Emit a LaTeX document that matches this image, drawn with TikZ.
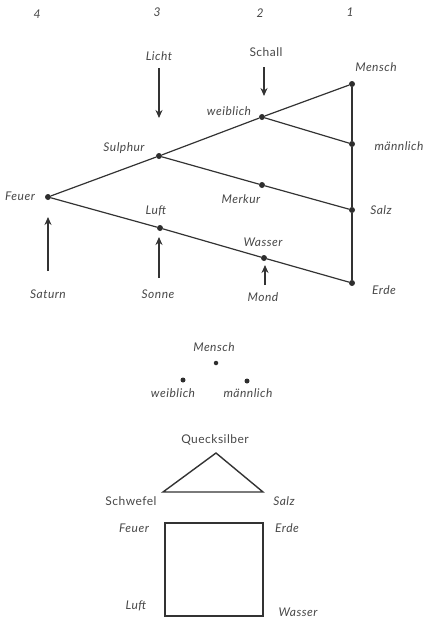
\documentclass[tikz,border=0pt]{standalone}
\usepackage{fontspec}
\setmainfont{Lato}[LetterSpace=4]
\usetikzlibrary{arrows.meta}
\begin{document}
\begin{tikzpicture}[x=1pt,y=-1pt,
  lbl/.style={font=\fontsize{12}{14}\selectfont\itshape, text=black!72, inner sep=0pt},
  ulbl/.style={lbl, font=\fontsize{12}{14}\selectfont\upshape},
  dot/.style={circle, fill=black!82, inner sep=0pt, minimum size=6pt},
  ln/.style={draw=black!80, line width=1.2pt},
  arr/.style={ln, -{Stealth[length=8pt,width=7pt]}}]
\useasboundingbox (0,0) rectangle (431,632);
% column numbers
\node[lbl] (n4) at (37,14) {4};
\node[lbl] (n3) at (157,12) {3};
\node[lbl] (n2) at (260,13) {2};
\node[lbl] (n1) at (350,12) {1};
% top diagram dots
\node[dot] (mensch) at (352,84) {};
\node[dot] (weib) at (262,117) {};
\node[dot] (sulph) at (159,156) {};
\node[dot] (feuer) at (48,197) {};
\node[dot] (mann) at (352,144) {};
\node[dot] (merkur) at (262,185) {};
\node[dot] (salz) at (352,210) {};
\node[dot] (luft) at (160,228) {};
\node[dot] (wasser) at (264,258) {};
\node[dot] (erde) at (352,283) {};
% labels
\node[lbl] (lMensch) at (376,67) {Mensch};
\node[lbl] (lWeib) at (229,111) {weiblich};
\node[ulbl] (lSchall) at (266,52) {Schall};
\node[lbl] (lLicht) at (159,56) {Licht};
\node[lbl] (lSulph) at (124,148) {Sulphur};
\node[lbl] (lFeuer) at (20,196) {Feuer};
\node[lbl] (lMann) at (399,146) {männlich};
\node[lbl] (lMerkur) at (241,199) {Merkur};
\node[lbl] (lSalz) at (381,210) {Salz};
\node[lbl] (lLuft) at (156,211) {Luft};
\node[lbl] (lWasser) at (263,242) {Wasser};
\node[lbl] (lErde) at (384,290) {Erde};
\node[lbl] (lSaturn) at (48,294) {Saturn};
\node[lbl] (lSonne) at (158,294) {Sonne};
\node[lbl] (lMond) at (263,297) {Mond};
% lines
\draw[ln] (feuer) -- (sulph) -- (weib) -- (mensch);
\draw[ln] (sulph) -- (merkur) -- (salz);
\draw[ln] (weib) -- (mann);
\draw[ln] (feuer) -- (luft) -- (wasser) -- (erde);
\draw[ln] (mensch) -- (mann) -- (salz) -- (erde);
% arrows
\coordinate (lichtS) at (159,68);
\coordinate (lichtE) at (159,118);
\coordinate (schallS) at (264,67);
\coordinate (schallE) at (264,96);
\coordinate (satS) at (48,271);
\coordinate (satE) at (48,217);
\coordinate (sonS) at (159,278);
\coordinate (sonE) at (159,237);
\coordinate (mondS) at (265,285);
\coordinate (mondE) at (265,265);
\draw[arr] (lichtS) -- (lichtE);
\draw[arr] (schallS) -- (schallE);
\draw[arr] (satS) -- (satE);
\draw[arr] (sonS) -- (sonE);
\draw[arr] (mondS) -- (mondE);
% middle
\node[lbl] (mMenschL) at (214,347) {Mensch};
\node[dot, minimum size=4.5pt] (mMensch) at (216,363) {};
\node[dot, minimum size=5pt] (mWeib) at (183,380) {};
\node[dot, minimum size=5pt] (mMann) at (247,381) {};
\node[lbl] (mWeibL) at (173,393) {weiblich};
\node[lbl] (mMannL) at (248,393) {männlich};
% bottom triangle
\coordinate (tA) at (216,453);
\coordinate (tL) at (163,492);
\coordinate (tR) at (263,492);
\draw[ln, line width=1.4pt, line join=miter] (tL) -- (tA) -- (tR) -- cycle;
\node[ulbl] (qL) at (215,440) {Quecksilber};
\node[ulbl] (schwL) at (131,501) {Schwefel};
\node[lbl] (salzL) at (284,501) {Salz};
% square
\coordinate (sTL) at (165,523);
\coordinate (sBR) at (263,616);
\draw[ln, line width=1.4pt] (sTL) rectangle (sBR);
\node[lbl] (fL) at (134,528) {Feuer};
\node[lbl] (eL) at (287,528) {Erde};
\node[lbl] (luL) at (136,606) {Luft};
\node[lbl] (wL) at (298,612) {Wasser};
\end{tikzpicture}
\end{document}
